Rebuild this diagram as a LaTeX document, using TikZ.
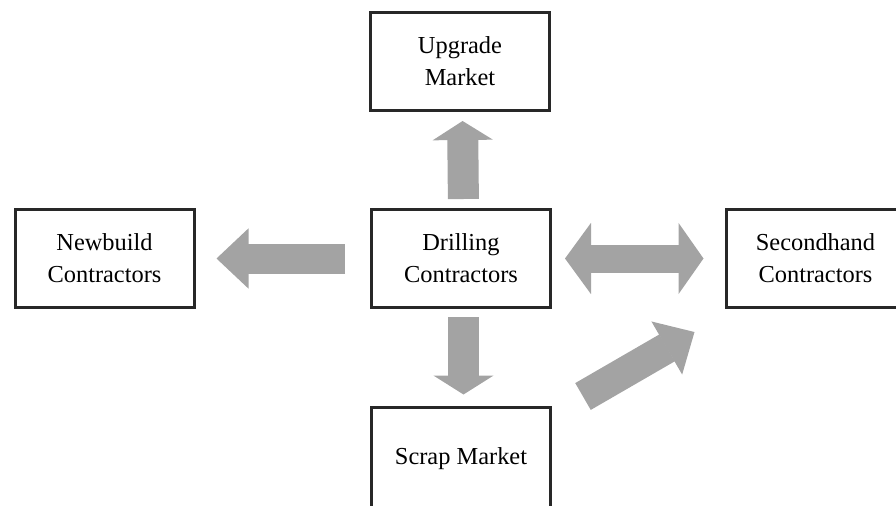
\documentclass[tikz,border=0pt,11pt]{standalone}
\usepackage{fontspec}
\setmainfont{Liberation Serif}
\usepackage{tikz}
\usetikzlibrary{arrows.meta,calc}
\definecolor{arrowgray}{RGB}{163,163,163}
\definecolor{boxline}{RGB}{40,40,40}

\begin{document}
\begin{tikzpicture}[x=0.5pt, y=0.5pt,
    box/.style={draw=boxline, line width=1.5pt, minimum width=89.5pt, minimum height=49pt,
        align=center, text=black, font=\fontsize{12.2}{16}\selectfont},
    fat/.style={draw=arrowgray, line width=15.5pt}]
    \clip (0,0) rectangle (896,505);
    % Markets and contractors
    \node[box] (upg) at (460,443.5) {Upgrade\\Market};
    \node[box] (newb) at (104.5,246.5) {Newbuild\\Contractors};
    \node[box] (drill) at (461,246.5) {Drilling\\Contractors};
    \node[box] (sec) at (815.5,246.5) {Secondhand\\Contractors};
    \node[box, minimum height=52pt] (scrap) at (461,46) {\raisebox{3pt}{Scrap Market}};
    % Flows
    \draw[fat, -{Triangle[width=30pt, length=9.5pt, line width=0.8pt]}, shorten <=4.5pt, shorten >=4.5pt]
        ([xshift=1.25pt]drill.north) -- ([xshift=1.25pt]upg.south);
    \draw[fat, line width=15pt, -{Triangle[width=30pt, length=16pt, line width=0.8pt]}, shorten <=12.5pt, shorten >=10.5pt]
        (drill.west) -- (newb.east);
    \draw[fat, line width=14pt, {Triangle[width=35.5pt, length=13pt, line width=0.8pt]}-{Triangle[width=35.5pt, length=12.5pt, line width=0.8pt]}, shorten <=6.5pt, shorten >=10.5pt]
        (drill.east) -- (sec.west);
    \draw[fat, -{Triangle[width=30pt, length=9.5pt, line width=0.8pt]}, shorten <=4pt, shorten >=5.5pt]
        ([xshift=1.25pt]drill.south) -- ([xshift=1.25pt]scrap.north);
    \draw[fat, -{Triangle[width=30.5pt, length=16pt, line width=0.8pt]}]
        ($(scrap.north east)+(31,9)$) -- ($(sec.south west)+(-30,-23)$);
\end{tikzpicture}
\end{document}
